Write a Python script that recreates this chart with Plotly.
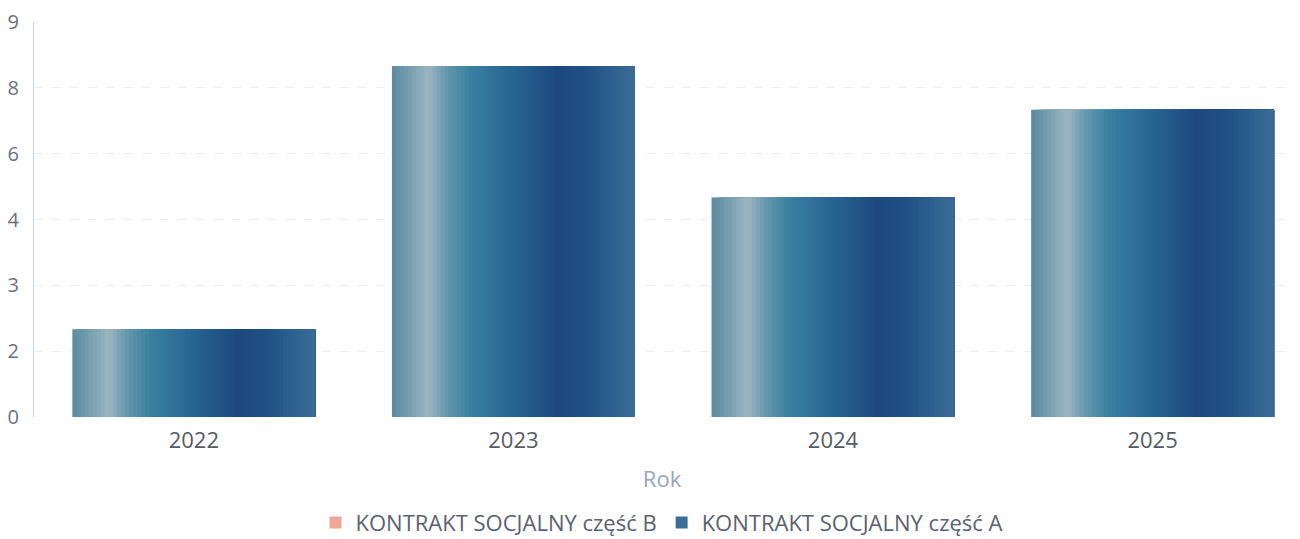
import plotly.graph_objects as go

years = ["2022", "2023", "2024", "2025"]
values_a = [2, 8, 5, 7]
values_b = [0, 0, 0, 0]
series_a = "KONTRAKT SOCJALNY część A"
series_b = "KONTRAKT SOCJALNY część B"
y_tickvals = [0, 1.5, 3, 4.5, 6, 7.5, 9]
y_ticktext = ["0", "2", "3", "4", "6", "8", "9"]

# horizontal gradient stops across each bar (fraction, rgb)
stops = [
    (0.00, (92, 138, 160)),
    (0.07, (118, 158, 176)),
    (0.15, (156, 182, 195)),
    (0.22, (104, 152, 174)),
    (0.32, (58, 128, 160)),
    (0.50, (40, 100, 146)),
    (0.68, (28, 72, 128)),
    (0.80, (32, 80, 134)),
    (0.92, (46, 98, 144)),
    (1.00, (60, 108, 148)),
]


def grad(t):
    for (t0, c0), (t1, c1) in zip(stops[:-1], stops[1:]):
        if t0 <= t <= t1:
            f = (t - t0) / (t1 - t0) if t1 > t0 else 0
            return "rgb(%d,%d,%d)" % tuple(round(a + (b - a) * f) for a, b in zip(c0, c1))
    return "rgb(%d,%d,%d)" % stops[-1][1]


fig = go.Figure()

bar_w = 0.76
n = 60
for k in range(n):
    t = (k + 0.5) / n
    start = -bar_w / 2 + k * bar_w / n
    fig.add_trace(go.Bar(
        x=years, y=values_a,
        width=bar_w / 2 - start,
        offset=start,
        marker=dict(color=grad(t), line=dict(width=0)),
        showlegend=False, hoverinfo="skip",
    ))

# legend entries
fig.add_trace(go.Bar(x=years, y=values_b, name=series_b,
                     marker=dict(color="#f0a596", line=dict(width=0)), showlegend=True))
fig.add_trace(go.Bar(x=years, y=[0, 0, 0, 0], name=series_a,
                     marker=dict(color="#3a6f96", line=dict(width=0)), showlegend=True))

fig.update_layout(
    width=1300, height=539,
    margin=dict(l=26, r=18, t=14, b=130),
    paper_bgcolor="white", plot_bgcolor="white",
    barmode="overlay",
    font=dict(family="Open Sans, sans-serif", color="#6b7280", size=20),
    xaxis=dict(
        type="category", range=[-0.5, 3.43], automargin=False,
        showgrid=False, zeroline=False, showline=False,
        tickfont=dict(size=22, color="#555b66"),
        ticks="", ticklabelstandoff=8,
        title=dict(text="Rok", font=dict(size=22, color="#9aa5b8"), standoff=18),
    ),
    yaxis=dict(
        range=[0, 9], tickvals=y_tickvals, ticktext=y_ticktext, automargin=False,
        showgrid=True, gridcolor="#eceef2", griddash="dash", gridwidth=1,
        zeroline=False, showline=True, linecolor="#c9d3e0", linewidth=1,
        tickfont=dict(size=20, color="#6b7280"), ticks="", ticklabelstandoff=10,
        ticklabeloverflow="allow",
    ),
    legend=dict(orientation="h", x=0.5, xanchor="center",
                yref="container", y=0.045, yanchor="middle",
                font=dict(size=22, color="#5a6170"), traceorder="normal",
                itemwidth=30),
    showlegend=True,
)

fig.write_html("out.html")
